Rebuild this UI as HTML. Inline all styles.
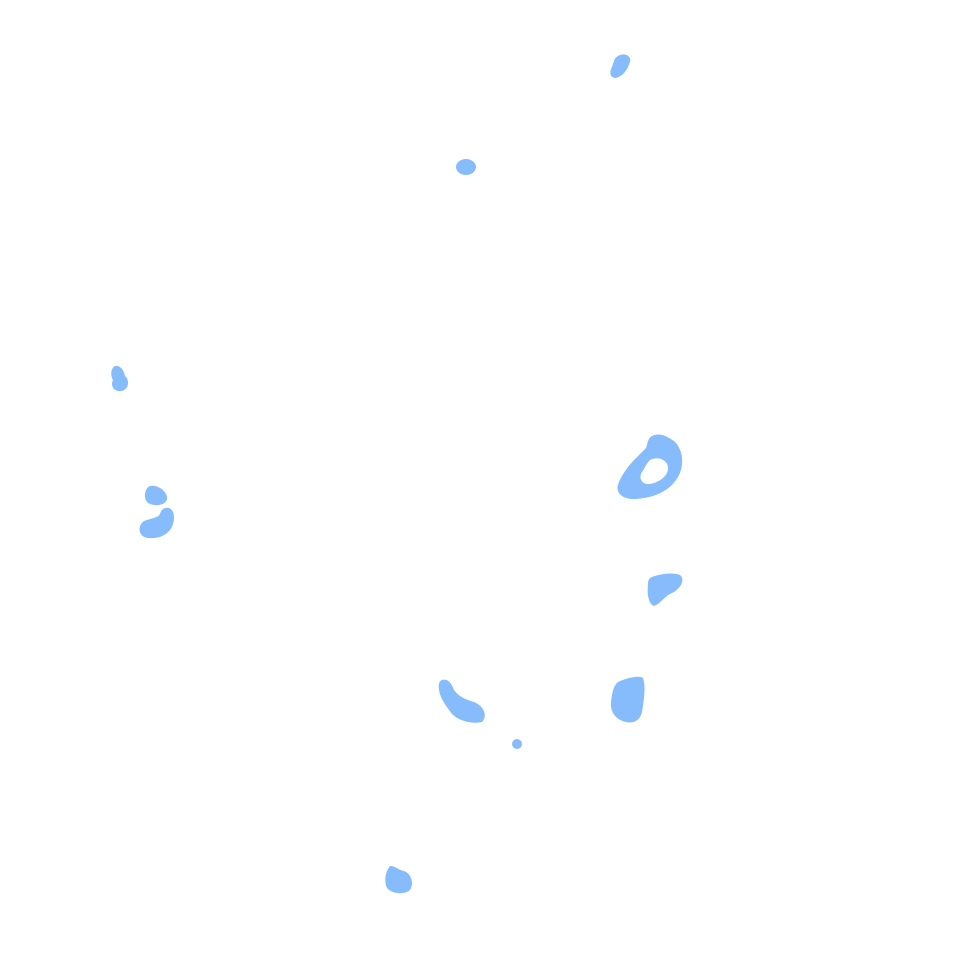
<!DOCTYPE html>
<html><head><meta charset="utf-8"><style>
html,body{margin:0;padding:0;background:#fff;width:969px;height:969px;overflow:hidden}
svg{display:block}
</style></head><body>
<svg width="969" height="969" viewBox="0 0 969 969" xmlns="http://www.w3.org/2000/svg">
<g fill="#86bcfc">
<path d="M618,56 C624,52 632,56 630,62 C628,68 624,76 616,78 C610,78 609,72 612,67 C614,62 614,58 618,56Z"/>
<ellipse cx="466" cy="167" rx="10" ry="8"/>
<path d="M115,366 C120,365 124,370 125,376 C130,380 129,390 121,391 C114,392 110,386 113,380 C110,375 111,368 115,366Z"/>
<path d="M150,486 C158,484 168,492 167,499 C166,506 152,507 147,502 C143,497 145,488 150,486Z"/>
<path d="M165,508 C172,506 176,514 173,524 C170,534 160,539 148,538 C138,537 137,526 144,521 C152,518 158,518 160,514 C161,511 162,509 165,508Z"/>
<path fill-rule="evenodd" d="M652,436 C660,432 668,437 674,441 C684,450 685,468 676,480 C668,492 652,498 636,499 C622,500 614,492 619,482 C625,468 636,458 646,448 C648,442 648,438 652,436Z M650,460 C658,456 668,460 668,468 C668,476 660,482 650,484 C642,485 638,478 642,472 C645,468 646,464 650,460Z"/>
<path d="M652,577 C660,574 672,572 680,575 C686,580 680,590 670,594 C664,597 660,604 654,606 C648,604 647,592 648,585 C648,580 649,578 652,577Z"/>
<path d="M442,680 C448,678 452,684 454,690 C458,696 466,700 474,702 C484,706 488,716 482,722 C474,724 460,722 452,714 C446,706 440,698 439,690 C438,685 439,681 442,680Z"/>
<circle cx="517" cy="744" r="5"/>
<path d="M618,682 C626,678 638,675 643,678 C646,688 644,700 642,712 C640,720 634,724 626,722 C616,720 610,712 611,702 C612,694 613,686 618,682Z"/>
<path d="M390,866 C396,866 398,870 404,871 C412,874 414,884 410,890 C404,895 392,894 387,888 C384,882 385,872 390,866Z"/>
</g>
</svg>
</body></html>
